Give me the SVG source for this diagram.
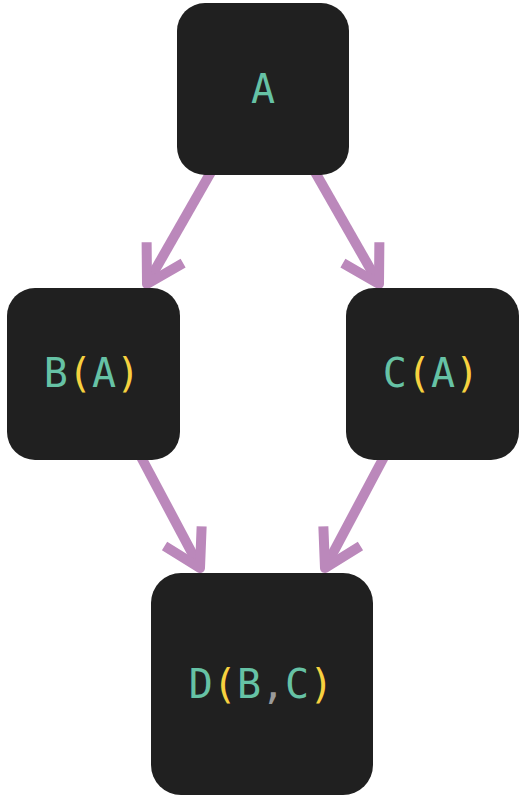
<svg xmlns="http://www.w3.org/2000/svg" width="525" height="803" viewBox="0 0 525 803">
  <style>
    .box { fill: #202020; }
    .lbl { font-family: "DejaVu Sans Mono", "Liberation Mono", monospace; font-size: 40px; text-anchor: middle; }
    .id { fill: #66c2a5; }
    .par { fill: #f7d13f; }
    .com { fill: #9a9a9a; }
    .edge { fill: none; stroke: #bb88bb; stroke-width: 10; marker-end: url(#ah); }
  </style>
  <defs>
    <marker id="ah" markerUnits="userSpaceOnUse" orient="auto" overflow="visible" markerWidth="1" markerHeight="1" refX="0" refY="0">
      <path d="M-36,-21 L0,0 L-36,21" fill="none" stroke="#bb88bb" stroke-width="10" stroke-linejoin="round"/>
    </marker>
  </defs>
  <rect width="525" height="803" fill="#ffffff"/>
  <g id="connectors">
    <path class="edge" d="M211,172 L147,284"/>
    <path class="edge" d="M315,172 L379,284"/>
    <path class="edge" d="M141,457 L200,568"/>
    <path class="edge" d="M384,457 L325,568"/>
  </g>
  <g id="node-A">
    <rect class="box" x="177" y="3" width="172" height="172" rx="28"/>
    <text class="lbl" x="263" y="103"><tspan class="id">A</tspan></text>
  </g>
  <g id="node-B">
    <rect class="box" x="7" y="288" width="173" height="172" rx="28"/>
    <text class="lbl" x="92" y="387"><tspan class="id">B</tspan><tspan class="par">(</tspan><tspan class="id">A</tspan><tspan class="par">)</tspan></text>
  </g>
  <g id="node-C">
    <rect class="box" x="346" y="288" width="173" height="172" rx="28"/>
    <text class="lbl" x="431" y="387"><tspan class="id">C</tspan><tspan class="par">(</tspan><tspan class="id">A</tspan><tspan class="par">)</tspan></text>
  </g>
  <g id="node-D">
    <rect class="box" x="151" y="573" width="222" height="222" rx="30"/>
    <text class="lbl" x="261" y="698"><tspan class="id">D</tspan><tspan class="par">(</tspan><tspan class="id">B</tspan><tspan class="com">,</tspan><tspan class="id">C</tspan><tspan class="par">)</tspan></text>
  </g>
</svg>
